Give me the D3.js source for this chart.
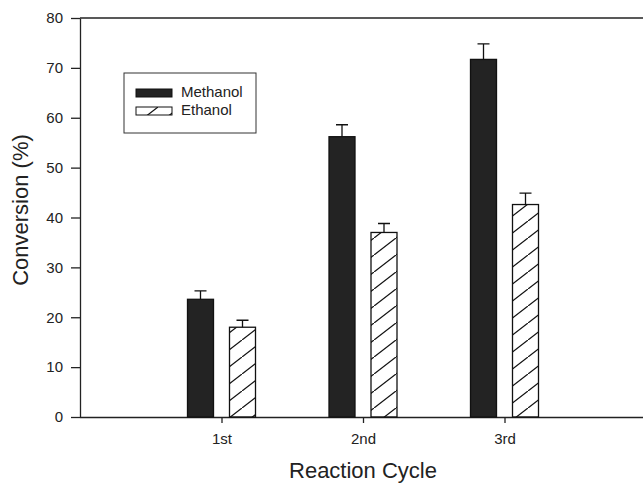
<!DOCTYPE html>
<html>
<head>
<meta charset="utf-8">
<script src="https://cdn.jsdelivr.net/npm/d3@7"></script>
<style>
	body { margin: 0; background: #fff; }
	svg { display: block; font-family: "Liberation Sans", Arial, sans-serif; }
	.axis path, .axis line { stroke: #222; stroke-width: 1.3; }
	.axis text { font-size: 15px; fill: #222; }
</style>
</head>
<body>
<svg id="chart"></svg>
<script>
let cycles		= ['1st', '2nd', '3rd'];
let series		= ['Methanol', 'Ethanol'];
let methanol	= [23.6, 56.2, 71.7];
let ethanol		= [18.0, 37.0, 42.6];
let methanolErr	= [1.7, 2.4, 3.1];
let ethanolErr	= [1.4, 1.8, 2.3];
let yTicks		= [0, 10, 20, 30, 40, 50, 60, 70, 80];

let canvasWidth		= 643;
let canvasHeight	= 484;
let margin			= { top: 18, right: 0, bottom: 67, left: 80 };
let height			= canvasHeight - margin.top - margin.bottom;

let svg = d3.select('#chart')
	.attr('width', canvasWidth)
	.attr('height', canvasHeight);

let defs = svg.append('defs');
defs.append('pattern')
	.attr('id', 'hatch')
	.attr('patternUnits', 'userSpaceOnUse')
	.attr('width', 22)
	.attr('height', 17)
	.append('path')
		.attr('d', 'M-2,18.5 L24,-1.5')
		.attr('stroke', '#111')
		.attr('stroke-width', 1.3);

let x = d3.scaleLinear().domain([0, 4]).range([margin.left, 646]);
let y = d3.scaleLinear().domain([0, 80]).range([margin.top + height, margin.top]);

let barWidth	= 26;
let offset		= 21;

// frame lines
svg.append('line')
	.attr('x1', x(0)).attr('x2', canvasWidth)
	.attr('y1', y(80)).attr('y2', y(80))
	.attr('stroke', '#222').attr('stroke-width', 1.3);

svg.append('g')
	.attr('class', 'axis')
	.attr('transform', 'translate(' + x(0) + ',0)')
	.call(d3.axisLeft(y).tickValues(yTicks).tickSize(9).tickPadding(8).tickSizeOuter(0));

svg.append('g')
	.attr('class', 'axis')
	.attr('transform', 'translate(0,' + y(0) + ')')
	.call(d3.axisBottom(x).tickValues([1, 2, 3]).tickFormat((d) => cycles[d - 1]).tickSize(6).tickPadding(10).tickSizeOuter(0))
	.call((g) => g.select('.domain').attr('d', 'M' + x(0) + ',0.5H' + canvasWidth));

let groups = [
	{ name: series[0], values: methanol, err: methanolErr, dx: -offset, fill: '#232323' },
	{ name: series[1], values: ethanol, err: ethanolErr, dx: offset, fill: 'url(#hatch)' }
];

groups.forEach((s) => {
	let g = svg.append('g');
	g.selectAll('rect').data(s.values).enter()
		.append('rect')
			.attr('x', (d, i) => x(i + 1) + s.dx - barWidth / 2)
			.attr('y', (d) => y(d))
			.attr('width', barWidth)
			.attr('height', (d) => y(0) - y(d))
			.attr('fill', s.fill)
			.attr('stroke', '#111')
			.attr('stroke-width', 1.3);

	g.selectAll('.err').data(s.values).enter()
		.append('path')
			.attr('class', 'err')
			.attr('d', (d, i) => {
				let cx = x(i + 1) + s.dx;
				let top = y(d + s.err[i]);
				return 'M' + cx + ',' + y(d) + 'V' + top + 'M' + (cx - 6) + ',' + top + 'H' + (cx + 6);
			})
			.attr('stroke', '#111')
			.attr('stroke-width', 1.3)
			.attr('fill', 'none');
});

// legend
let legend = svg.append('g').attr('transform', 'translate(124,73)');
legend.append('rect')
	.attr('width', 132).attr('height', 60)
	.attr('fill', '#fff').attr('stroke', '#333').attr('stroke-width', 1);

let legendItem = legend.selectAll('.item').data(groups).enter()
	.append('g')
		.attr('class', 'item')
		.attr('transform', (o, i) => 'translate(12,' + (16 + i * 18) + ')');

legendItem.append('rect')
	.attr('width', 36).attr('height', 8)
	.attr('fill', (o) => o.fill)
	.attr('stroke', '#111').attr('stroke-width', 1);

legendItem.append('text')
	.attr('x', 45).attr('y', 8)
	.attr('font-size', 15).attr('fill', '#222')
	.text((o) => o.name);

// axis titles
svg.append('text')
	.attr('transform', 'translate(28,210) rotate(-90)')
	.attr('text-anchor', 'middle')
	.attr('font-size', 22).attr('fill', '#222')
	.text('Conversion (%)');

svg.append('text')
	.attr('x', x(2)).attr('y', 478)
	.attr('text-anchor', 'middle')
	.attr('font-size', 22).attr('fill', '#222')
	.text('Reaction Cycle');
</script>
</body>
</html>
